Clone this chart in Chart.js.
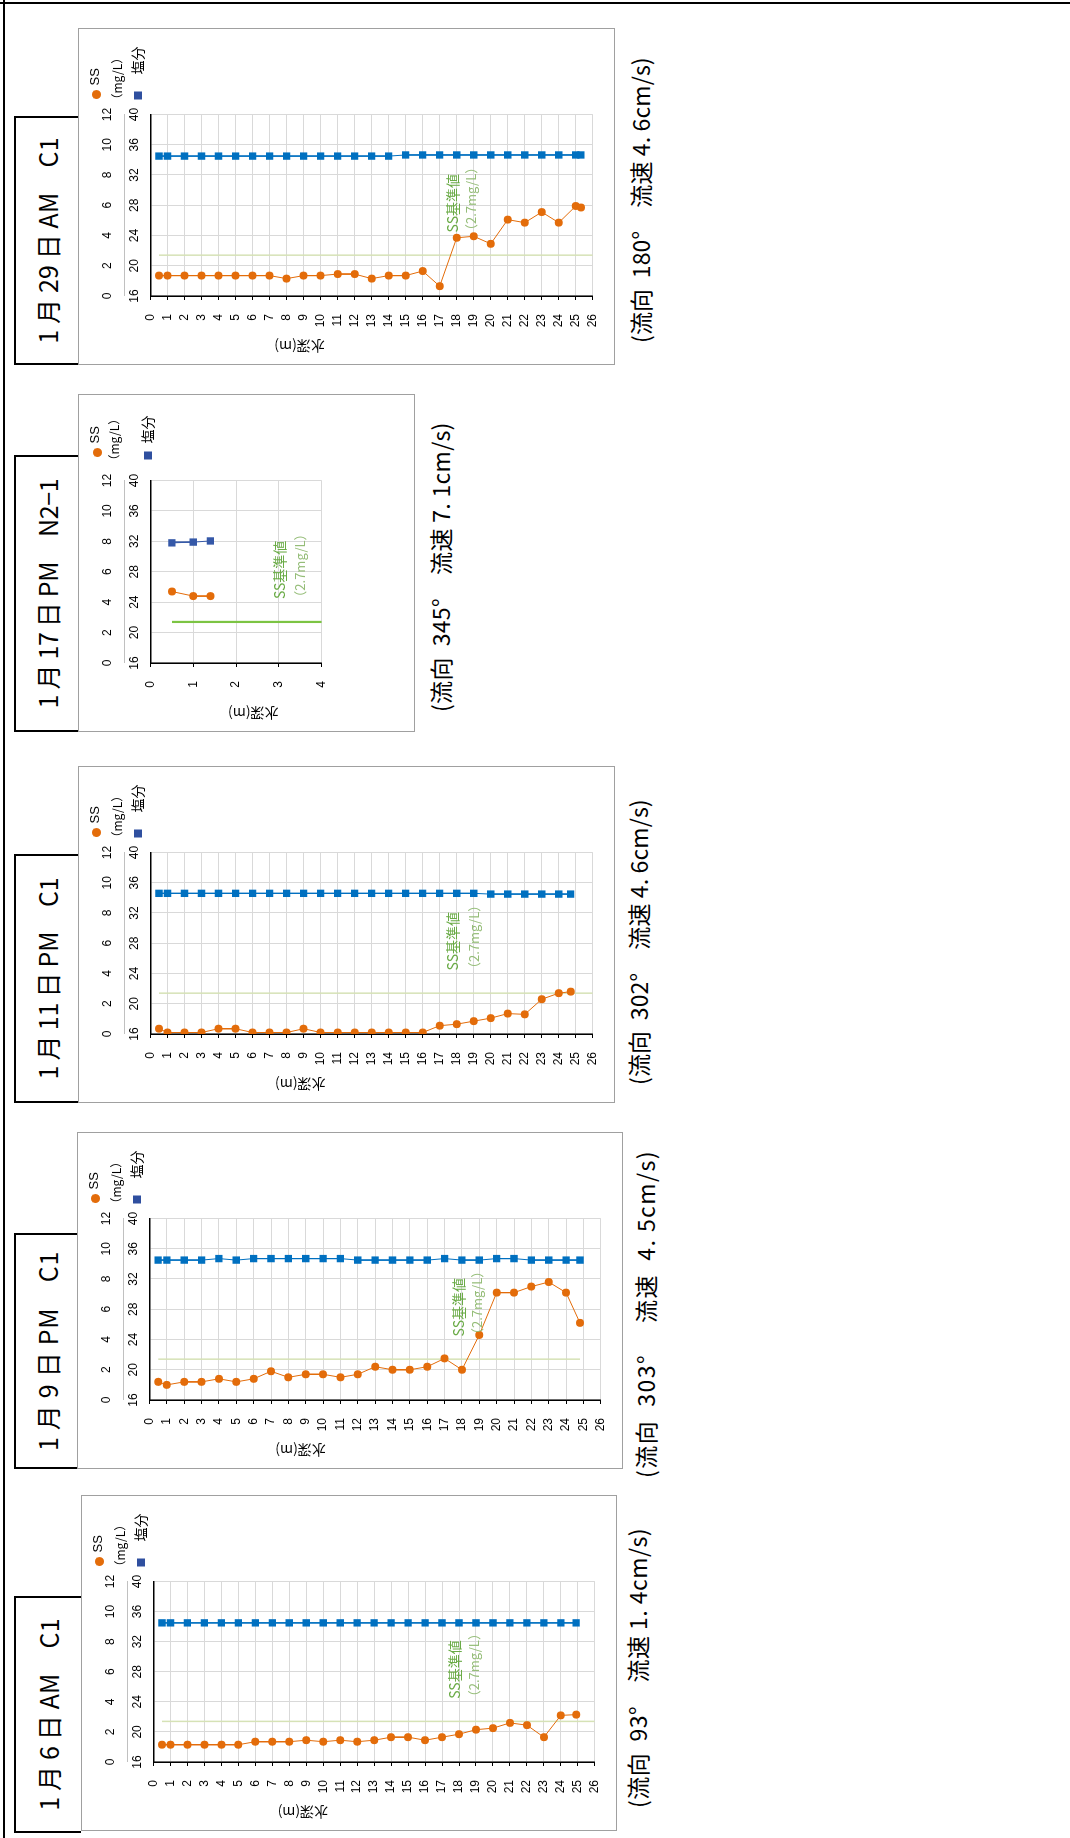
<!DOCTYPE html>
<html>
<head>
<meta charset="utf-8">
<script src="https://cdn.jsdelivr.net/npm/chart.js@4.4.1/dist/chart.umd.min.js"></script>
<style>
html,body{margin:0;padding:0;background:#fff;}
body{width:1070px;height:1838px;overflow:hidden;position:relative;}
#frame{position:absolute;left:0;top:0;width:1838px;height:1070px;transform-origin:0 0;
  transform:translateY(1838px) rotate(-90deg);font-family:'Noto Sans CJK JP',sans-serif;color:#000;}
.line{position:absolute;background:#000;}
.ttl{position:absolute;box-sizing:border-box;border:2px solid #000;border-bottom:none;
  display:flex;align-items:center;justify-content:center;font-size:25px;white-space:pre;}
.box{position:absolute;box-sizing:border-box;border:1px solid #a0a0a0;background:#fff;}
.box canvas{position:absolute;left:0;top:0;}
.cap{position:absolute;font-size:23px;white-space:pre;line-height:1;}
</style>
</head>
<body>
<div id="frame"></div>
<script>
// axis ticks
const ssTicks = [0, 2, 4, 6, 8, 10, 12];
const salTicks = [16, 20, 24, 28, 32, 36, 40];
const depthTicks = [0,1,2,3,4,5,6,7,8,9,10,11,12,13,14,15,16,17,18,19,20,21,22,23,24,25,26];
const depthTicksShort = [0, 1, 2, 3, 4];

// 1/6 AM C1
const depth1 = [0.5,1,2,3,4,5,6,7,8,9,10,11,12,13,14,15,16,17,18,19,20,21,22,23,24,24.9];
const ss1 = [1.15,1.15,1.15,1.15,1.15,1.15,1.35,1.35,1.35,1.45,1.35,1.45,1.35,1.45,1.65,1.65,1.45,1.65,1.85,2.15,2.25,2.6,2.45,1.65,3.1,3.15];
const sal1 = [34.5,34.5,34.5,34.5,34.5,34.5,34.5,34.5,34.5,34.5,34.5,34.5,34.5,34.5,34.5,34.5,34.5,34.5,34.5,34.5,34.5,34.5,34.5,34.5,34.5,34.5];
const std1 = [0.5, 26];

// 1/9 PM C1
const depth2 = [0.5,1,2,3,4,5,6,7,8,9,10,11,12,13,14,15,16,17,18,19,20,21,22,23,24,24.8];
const ss2 = [1.2,1.0,1.2,1.2,1.4,1.2,1.4,1.9,1.5,1.7,1.7,1.5,1.7,2.2,2.0,2.0,2.2,2.75,2.0,4.3,7.1,7.1,7.5,7.8,7.1,5.1];
const sal2 = [34.5,34.5,34.5,34.5,34.7,34.5,34.7,34.7,34.7,34.7,34.7,34.7,34.5,34.5,34.5,34.5,34.5,34.7,34.5,34.5,34.7,34.7,34.5,34.5,34.5,34.5];
const std2 = [0.5, 24.8];

// 1/11 PM C1
const depth3 = [0.5,1,2,3,4,5,6,7,8,9,10,11,12,13,14,15,16,17,18,19,20,21,22,23,24,24.7];
const ss3 = [0.35,0.1,0.1,0.1,0.35,0.35,0.1,0.1,0.1,0.35,0.1,0.1,0.1,0.1,0.1,0.1,0.1,0.55,0.65,0.85,1.05,1.35,1.3,2.3,2.7,2.8];
const sal3 = [34.6,34.6,34.6,34.6,34.6,34.6,34.6,34.6,34.6,34.6,34.6,34.6,34.6,34.6,34.6,34.6,34.6,34.6,34.6,34.6,34.5,34.5,34.5,34.5,34.5,34.5];
const std3 = [0.5, 26];

// 1/17 PM N2-1
const depth4 = [0.5, 1.0, 1.4];
const ss4 = [4.7, 4.4, 4.4];
const sal4 = [31.8, 31.9, 32.05];
const std4 = [0.5, 4];

// 1/29 AM C1
const depth5 = [0.5,1,2,3,4,5,6,7,8,9,10,11,12,13,14,15,16,17,18,19,20,21,22,23,24,25,25.3];
const ss5 = [1.35,1.35,1.35,1.35,1.35,1.35,1.35,1.35,1.15,1.35,1.35,1.45,1.45,1.15,1.35,1.35,1.65,0.65,3.85,3.95,3.45,5.05,4.85,5.55,4.85,5.95,5.85];
const sal5 = [34.5,34.5,34.5,34.5,34.5,34.5,34.5,34.5,34.5,34.5,34.5,34.5,34.5,34.5,34.5,34.65,34.65,34.65,34.65,34.65,34.65,34.65,34.65,34.65,34.65,34.65,34.65];
const std5 = [0.5, 26];

const ssStd = 2.7;

Chart.defaults.font.family = "'Liberation Sans', 'Noto Sans CJK JP', sans-serif";
Chart.defaults.font.size = 12;
Chart.defaults.color = '#000';
Chart.defaults.animation = false;

const legendA = {dot:[20,-54], ss:[29,-55], unit:[9,-33], sq:[19,-12.5], sal:[40,-13]};
const legendB = {dot:[28,-53], ss:[37,-55], unit:[14,-36], sq:[25,-2.5], sal:[37,-3]};

const panels = [
  {title:'1 月 6 日 AM　C1', titleW:192, cap:'(流向  93°　流速 1. 4cm/s)', capW:280,
   depth:depth1, ss:ss1, sal:sal1, std:std1, ticks:depthTicks,
   box:[7,80.5,336,536], tbox:[5,242], capPos:[30,637], bottom:7.8, lab:[17.75,18.9], axDepth:8.8,
   legend:legendA, salColor:'#0070C0', stdColor:'#d6e2b6', stdW:1.5},
  {title:'1 月 9 日 PM　C1', titleW:200, cap:'(流向  303°　 流速  4. 5cm/s)', capW:328,
   depth:depth2, ss:ss2, sal:sal2, std:std2, ticks:depthTicks,
   box:[369,77,337,546], tbox:[369,605], capPos:[360,645], bottom:8.6, lab:[17.8,18.85], axDepth:8.7,
   legend:legendA, salColor:'#0070C0', stdColor:'#d6e2b6', stdW:1.5},
  {title:'1 月 11 日 PM　C1', titleW:202, cap:'(流向  302°　流速 4. 6cm/s)', capW:286,
   depth:depth3, ss:ss3, sal:sal3, std:std3, ticks:depthTicks,
   box:[735,78,337,537], tbox:[735,984], capPos:[753,638.5], bottom:7, lab:[17.75,19.0], axDepth:8.8,
   legend:legendA, salColor:'#0070C0', stdColor:'#d6e2b6', stdW:1.5},
  {title:'1 月 17 日 PM　N2−1', titleW:230, cap:'(流向  345°　流速 7. 1cm/s)', capW:290,
   depth:depth4, ss:ss4, sal:sal4, std:std4, ticks:depthTicksShort,
   box:[1106,78,338,337], tbox:[1106,1383], capPos:[1126,440.5], bottom:92.3, lab:[3.03,3.5], axDepth:2.4,
   legend:legendB, salColor:'#3558A8', stdColor:'#7cc443', stdW:2.2},
  {title:'1 月 29 日 AM　C1', titleW:206, cap:'(流向  180°　流速 4. 6cm/s)', capW:286,
   depth:depth5, ss:ss5, sal:sal5, std:std5, ticks:depthTicks,
   box:[1473,78,337,537], tbox:[1473,1722], capPos:[1495,640.5], bottom:6.8, lab:[17.76,18.84], axDepth:8.76,
   legend:legendA, salColor:'#0070C0', stdColor:'#d6e2b6', stdW:1.5}
];

const frame = document.getElementById('frame');
function el(cls, css) {
  const d = document.createElement('div');
  d.className = cls;
  Object.assign(d.style, css);
  frame.appendChild(d);
  return d;
}
function fitText(node, text, target) {
  node.textContent = text;
  const w = node.offsetWidth;
  const n = [...text].length;
  node.style.letterSpacing = ((target - w) / n) + 'px';
}

// page lines
el('line', {left:'0px', top:'3px', width:'1838px', height:'2px'});
el('line', {left:'1834px', top:'0px', width:'2px', height:'1070px'});

const marks = {
  id: 'marks',
  afterDatasetsDraw(chart, args, o) {
    const ctx = chart.ctx, a = chart.chartArea;
    const xs = chart.scales.xSS, y = chart.scales.y;
    ctx.save();
    ctx.textBaseline = 'middle';
    ctx.textAlign = 'left';
    ctx.font = "14px 'Noto Sans CJK JP'";
    ctx.fillStyle = '#6aab46';
    ctx.fillText('SS基準値', xs.getPixelForValue(4.2), y.getPixelForValue(o.lab[0]));
    ctx.font = "13px 'Noto Sans CJK JP'";
    ctx.fillStyle = '#95bd78';
    ctx.fillText('（2.7mg/L）', xs.getPixelForValue(3.9), y.getPixelForValue(o.lab[1]));

    // legend
    const L = o.legend, r = a.right, t = a.top;
    ctx.fillStyle = '#E36C0A';
    ctx.beginPath();
    ctx.arc(r + L.dot[0], t + L.dot[1], 4.5, 0, Math.PI * 2);
    ctx.fill();
    ctx.fillStyle = '#2F4F9F';
    ctx.fillRect(r + L.sq[0] - 4, t + L.sq[1] - 4, 8, 8);
    ctx.fillStyle = '#000';
    ctx.font = "13px 'Liberation Sans'";
    ctx.fillText('SS', r + L.ss[0], t + L.ss[1]);
    ctx.font = "12px 'Noto Sans CJK JP'";
    ctx.fillText('（mg/L）', r + L.unit[0], t + L.unit[1]);
    ctx.font = "14px 'Noto Sans CJK JP'";
    ctx.fillText('塩分', r + L.sal[0], t + L.sal[1]);

    // depth axis title
    ctx.font = "14px 'Noto Sans CJK JP'";
    ctx.translate(18, y.getPixelForValue(o.axDepth));
    ctx.rotate(-Math.PI / 2);
    ctx.textAlign = 'center';
    ctx.fillText('水深(m)', 0, 0);
    ctx.restore();
  }
};

panels.forEach(p => {
  const [u, v, w, h] = p.box;
  const tb = el('ttl', {left:p.tbox[0] + 'px', top:'14px', width:(p.tbox[1] - p.tbox[0]) + 'px', height:(v - 14) + 'px'});
  const span = document.createElement('span');
  tb.appendChild(span);
  fitText(span, p.title, p.titleW);

  const cap = el('cap', {left:p.capPos[0] + 'px', top:(p.capPos[1] - 11.5) + 'px'});
  fitText(cap, p.cap, p.capW);

  const box = el('box', {left:u + 'px', top:v + 'px', width:w + 'px', height:h + 'px'});
  const cv = document.createElement('canvas');
  cv.width = w - 2; cv.height = h - 2;
  cv.style.width = (w - 2) + 'px'; cv.style.height = (h - 2) + 'px';
  box.appendChild(cv);

  const ssPts = p.depth.map((d, k) => ({x: p.ss[k], y: d}));
  const salPts = p.depth.map((d, k) => ({x: p.sal[k], y: d}));
  const stdPts = p.std.map(d => ({x: ssStd, y: d}));

  new Chart(cv, {
    type: 'scatter',
    data: {
      datasets: [
        {label:'SS', data:ssPts, xAxisID:'xSS', yAxisID:'y', showLine:true,
         borderColor:'#E36C0A', backgroundColor:'#E36C0A', borderWidth:1,
         pointRadius:4, pointStyle:'circle', pointBorderWidth:0},
        {label:'塩分', data:salPts, xAxisID:'xSal', yAxisID:'y', showLine:true,
         borderColor:p.salColor, backgroundColor:p.salColor, borderWidth:1,
         pointRadius:5.2, pointStyle:'rect', pointBorderWidth:0},
        {label:'SS基準値', data:stdPts, xAxisID:'xSS', yAxisID:'y', showLine:true,
         borderColor:p.stdColor, borderWidth:p.stdW, pointRadius:0}
      ]
    },
    options: {
      responsive: false,
      events: [],
      layout: {padding: {left:0, top:0, right:85.5, bottom:p.bottom}},
      plugins: {
        legend: {display:false},
        tooltip: {enabled:false},
        marks: {lab:p.lab, axDepth:p.axDepth, legend:p.legend}
      },
      scales: {
        xSS: {
          axis:'x', type:'linear', position:'top', weight:2,
          min:ssTicks[0], max:ssTicks[ssTicks.length - 1],
          afterBuildTicks: s => { s.ticks = ssTicks.map(x => ({value:x})); },
          afterFit: s => { s.height = 45; },
          ticks:{padding:8.8, maxRotation:0, autoSkip:false},
          grid:{display:false, drawTicks:false},
          border:{color:'#c0c0c0', width:1}
        },
        xSal: {
          axis:'x', type:'linear', position:'top', weight:1,
          min:salTicks[0], max:salTicks[salTicks.length - 1],
          afterBuildTicks: s => { s.ticks = salTicks.map(x => ({value:x})); },
          afterFit: s => { s.height = 26.5; },
          ticks:{padding:8.3, maxRotation:0, autoSkip:false},
          grid:{color:'#d9d9d9', lineWidth:1, drawTicks:false},
          border:{color:'#000', width:1.5}
        },
        y: {
          axis:'y', type:'linear', position:'left', reverse:true,
          min:p.ticks[0], max:p.ticks[p.ticks.length - 1],
          afterBuildTicks: s => { s.ticks = p.ticks.map(x => ({value:x})); },
          afterFit: s => { s.width = 68; },
          ticks:{padding:14, autoSkip:false},
          grid:{color:'#d9d9d9', lineWidth:1, tickColor:'#000', tickLength:4},
          border:{color:'#000', width:1.5}
        }
      }
    },
    plugins: [marks]
  });
});
</script>
</body>
</html>
